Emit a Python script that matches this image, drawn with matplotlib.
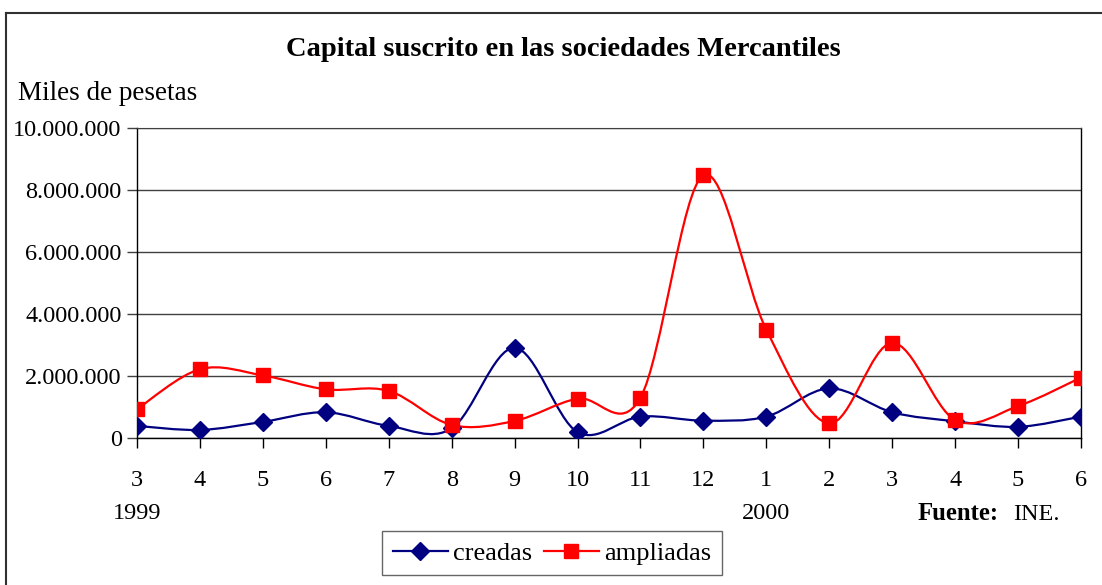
import matplotlib
matplotlib.use("Agg")
import matplotlib.pyplot as plt
import numpy as np
from matplotlib.path import Path
from matplotlib.patches import PathPatch
from matplotlib.lines import Line2D

plt.rcParams['font.family'] = ['Liberation Serif', 'DejaVu Serif']

months = ['3', '4', '5', '6', '7', '8', '9', '10', '11', '12', '1', '2', '3', '4', '5', '6']
creadas = [390000, 260000, 520000, 830000, 390000, 310000, 2910000, 190000,
           690000, 560000, 690000, 1600000, 830000, 540000, 360000, 690000]
ampliadas = [930000, 2220000, 2020000, 1570000, 1520000, 420000, 550000, 1270000,
             1300000, 8480000, 3490000, 470000, 3070000, 580000, 1030000, 1950000]
yticks = [0, 2000000, 4000000, 6000000, 8000000, 10000000]
ytick_labels = ['0', '2.000.000', '4.000.000', '6.000.000', '8.000.000', '10.000.000']
year_labels = {0: '1999', 10: '2000'}

W, H = 1102, 585
fig = plt.figure(figsize=(W / 100, H / 100), dpi=100)
ax = fig.add_axes([137 / W, (H - 438) / H, (1081 - 137) / W, (438 - 128) / H])

def smooth_path(xs, ys):
    pts = np.column_stack([xs, ys]).astype(float)
    n = len(pts)
    verts = [pts[0]]
    codes = [Path.MOVETO]
    for i in range(n - 1):
        p0 = pts[i - 1] if i > 0 else pts[i]
        p1 = pts[i]
        p2 = pts[i + 1]
        p3 = pts[i + 2] if i + 2 < n else pts[i + 1]
        c1 = p1 + (p2 - p0) / 6.0
        c2 = p2 - (p3 - p1) / 6.0
        verts += [c1, c2, p2]
        codes += [Path.CURVE4] * 3
    return Path(verts, codes)

x = np.arange(len(months))
for vals, color, marker, ms in [(creadas, '#000080', 'D', 9), (ampliadas, '#FF0000', 's', 10)]:
    ax.add_patch(PathPatch(smooth_path(x, vals), facecolor='none', edgecolor=color,
                           lw=1.6, zorder=3, transform=ax.transData))
    ax.plot(x, vals, linestyle='none', marker=marker, color=color, markersize=ms, zorder=4)

ax.set_xlim(0, len(months) - 1)
ax.set_ylim(0, 10000000)
ax.set_yticks(yticks)
ax.set_yticklabels(ytick_labels, fontsize=17.5)
ax.set_xticks(x)
ax.set_xticklabels(months, fontsize=17.5)
ax.tick_params(axis='y', length=7, width=1, pad=4, color='#404040')
ax.tick_params(axis='x', length=7, width=1, pad=16)
ax.grid(axis='y', color='#404040', lw=1)
ax.set_axisbelow(True)
for s in ['left', 'right', 'bottom']:
    ax.spines[s].set_color('black')
    ax.spines[s].set_linewidth(1)
ax.spines['top'].set_color('#404040')

for i, lbl in year_labels.items():
    ax.text(i, -0.245, lbl, transform=ax.get_xaxis_transform(), ha='center', va='center', fontsize=17.5)

fig.text(563 / W, 1 - 49 / H, 'Capital suscrito en las sociedades Mercantiles',
         ha='center', va='center', fontsize=20.5, fontweight='bold')
fig.text(18 / W, 1 - 93 / H, 'Miles de pesetas', ha='left', va='center', fontsize=19.5)
fig.text(918 / W, 1 - 514 / H, 'Fuente:', ha='left', va='center', fontsize=17.8, fontweight='bold')
fig.text(1013 / W, 1 - 514 / H, 'INE.', ha='left', va='center', fontsize=17.5)

# outer chart border (top and left)
fig.add_artist(Line2D([6 / W, 1.0], [1 - 13 / H, 1 - 13 / H], color='#303030', lw=1.5, transform=fig.transFigure))
fig.add_artist(Line2D([6 / W, 6 / W], [1 - 13 / H, 0], color='#303030', lw=1.5, transform=fig.transFigure))

handles = [Line2D([], [], color='#000080', marker='D', markersize=9, lw=1.6),
           Line2D([], [], color='#FF0000', marker='s', markersize=10, lw=1.6)]
leg = fig.legend(handles, ['creadas', 'ampliadas'], loc='center', bbox_to_anchor=(552 / W, 1 - 553 / H),
                 ncol=2, fontsize=19, frameon=True, fancybox=False, edgecolor='#404040',
                 handlelength=2.1, columnspacing=0.42, handletextpad=0.2, borderpad=0.4,
                 borderaxespad=0)
leg.get_frame().set_linewidth(1)

fig.savefig('out.png', dpi=100)
